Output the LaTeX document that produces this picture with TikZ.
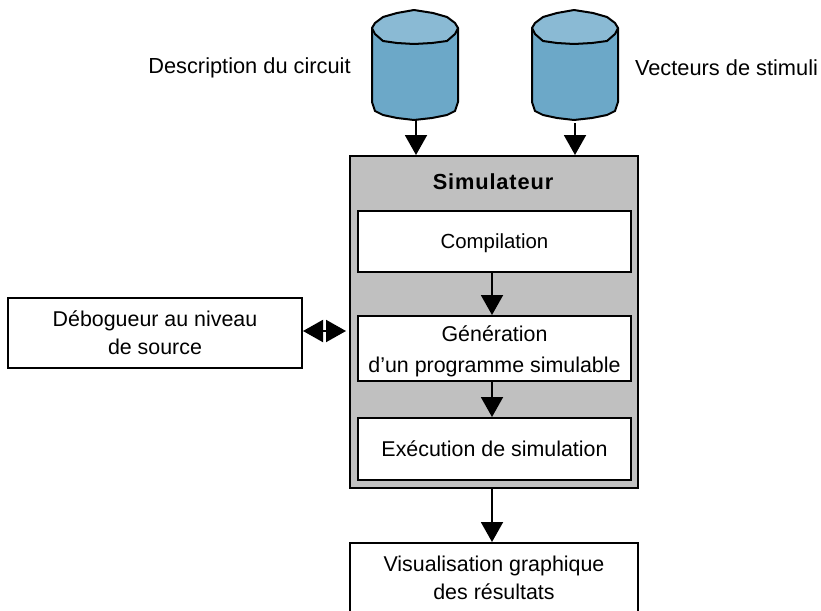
\documentclass[tikz,border=0pt]{standalone}
\usepackage{fontspec}
\setmainfont{Liberation Sans}
\newfontfamily\simfont[LetterSpace=4]{Liberation Sans}
\usetikzlibrary{arrows.meta}
\definecolor{dbside}{HTML}{6CA8C8}
\definecolor{dbtop}{HTML}{8ABAD4}
\definecolor{simgray}{HTML}{C0C0C0}
\tikzset{
    box/.style={draw=black, line width=2pt, fill=white, align=center, inner sep=0pt, font=\fontsize{21.4pt}{28pt}\selectfont},
    txt/.style={inner sep=0pt, font=\fontsize{21.8pt}{28pt}\selectfont},
    dbcyl/.pic={
        \draw[line width=2pt, line join=round, fill=dbside] (-43,-37)--(-43,37)--(-40,46)--(-32,50)--(-18,53)--(-1,55)--(17,53)--(32,50)--(40,46)--(43,37)--(43,-37)--cycle;
        \draw[line width=2pt, line join=round, fill=dbtop] (-43,-37)--(-40,-42)--(-32,-48)--(-18,-52)--(-1,-55)--(18,-52)--(32,-48)--(40,-42)--(43,-37)--(40,-31)--(32,-24)--(17,-22)--(-1,-21)--(-18,-22)--(-32,-24)--(-40,-31)--cycle;
        \coordinate (-bot) at (0,55);
    }
}
\begin{document}
\begin{tikzpicture}[>={Triangle[length=20pt,width=22pt]}, x=1pt, y=-1pt]
\clip (0,0) rectangle (821,610);
\pic (circuit) at (415,65) {dbcyl};
\pic (stimuli) at (575,65) {dbcyl};
\node[txt] (circuitlbl) at (249.5,68) {Description du circuit};
\node[txt] (stimulilbl) at (726.5,68) {Vecteurs de stimuli};

\node[box, fill=simgray, minimum width=288pt, minimum height=332pt] (sim) at (494,322) {};
\node[txt] (simlbl) at (493,182) {\simfont\bfseries Simulateur};
\node[box, minimum width=273pt, minimum height=61pt, text height=16pt, text depth=2pt, font=\fontsize{20.4pt}{28pt}\selectfont] (comp) at (494.5,241.5) {Compilation};
\node[box, minimum width=273pt, minimum height=65pt] (gen) at (494.5,348.5) {\rule{0pt}{21pt}Génération\\[3pt]d’un programme simulable};
\node[box, minimum width=273pt, minimum height=62pt, text height=16pt, text depth=2pt] (exec) at (494.5,449) {Exécution de simulation};
\node[box, minimum width=294pt, minimum height=70pt] (debug) at (155,333) {Débogueur au niveau\\de source};
\node[box, minimum width=288pt, minimum height=70pt] (visu) at (494,578) {Visualisation graphique\\des résultats};

\draw[->, line width=2pt] ([xshift=1pt]circuit-bot) -- ([xshift=1pt]circuit-bot |- sim.north);
\draw[->, line width=2pt] ([yshift=-3pt]stimuli-bot) -- (stimuli-bot |- sim.north);
\draw[->, line width=2pt] ([xshift=-2.5pt]comp.south) -- ([xshift=-2.5pt]gen.north);
\draw[->, line width=2pt] ([xshift=-2.5pt]gen.south) -- ([xshift=-2.5pt]exec.north);
\draw[->, line width=2pt] ([xshift=-2pt]sim.south) -- ([xshift=-2pt]visu.north);
\draw[<->, line width=2pt, shorten >=3pt] ([yshift=2pt]debug.east) -- ([yshift=2pt]debug.east -| sim.west);
\end{tikzpicture}
\end{document}
